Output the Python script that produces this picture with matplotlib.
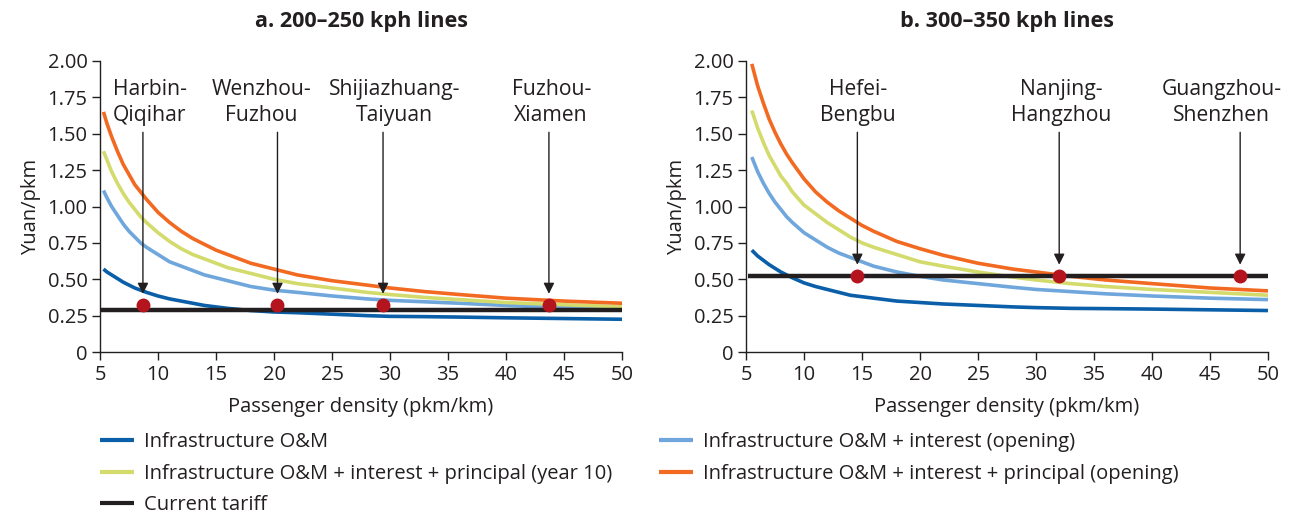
import matplotlib
matplotlib.use("Agg")
import matplotlib.pyplot as plt

plt.rcParams['font.family'] = ['Open Sans', 'DejaVu Sans']

# ---- data ----
x_a = [5.3, 5.6, 6, 6.5, 7, 7.5, 8, 8.5, 9, 10, 11, 12, 13, 14, 15, 16, 18, 20,
       22, 25, 28, 30, 33, 36, 40, 45, 50]
om_a = [0.57, 0.55, 0.53, 0.505, 0.48, 0.46, 0.44, 0.425, 0.41, 0.385, 0.365, 0.35,
        0.335, 0.32, 0.31, 0.30, 0.285, 0.275, 0.27, 0.26, 0.25, 0.245, 0.243, 0.24,
        0.235, 0.23, 0.225]
int_a = [1.11, 1.06, 1.00, 0.94, 0.88, 0.83, 0.79, 0.75, 0.72, 0.67, 0.62, 0.59,
         0.56, 0.53, 0.51, 0.49, 0.45, 0.425, 0.41, 0.385, 0.365, 0.355, 0.345, 0.335,
         0.32, 0.305, 0.295]
y10_a = [1.38, 1.32, 1.24, 1.16, 1.09, 1.03, 0.98, 0.93, 0.89, 0.82, 0.76, 0.71,
         0.67, 0.64, 0.61, 0.58, 0.54, 0.50, 0.47, 0.44, 0.41, 0.395, 0.375, 0.36,
         0.34, 0.325, 0.31]
open_a = [1.65, 1.57, 1.48, 1.38, 1.29, 1.22, 1.15, 1.10, 1.05, 0.96, 0.89, 0.83,
          0.78, 0.74, 0.70, 0.67, 0.61, 0.57, 0.53, 0.49, 0.46, 0.44, 0.415, 0.395,
          0.37, 0.35, 0.335]
tariff_a = 0.29
lines_a = ["Harbin-\nQiqihar", "Wenzhou-\nFuzhou", "Shijiazhuang-\nTaiyuan", "Fuzhou-\nXiamen"]
line_x_a = [8.7, 20.3, 29.4, 43.7]
line_y_a = [0.32, 0.32, 0.32, 0.32]
label_x_a = [9.3, 18.9, 30.4, 43.9]

x_b = [5.5, 6, 6.5, 7, 7.5, 8, 8.5, 9, 10, 11, 12, 13, 14, 15, 16, 18, 20,
       22, 25, 28, 30, 33, 36, 40, 45, 50]
om_b = [0.70, 0.66, 0.63, 0.60, 0.575, 0.55, 0.53, 0.51, 0.475, 0.45, 0.43, 0.41,
        0.39, 0.38, 0.37, 0.35, 0.34, 0.33, 0.32, 0.31, 0.305, 0.30, 0.298, 0.295,
        0.29, 0.285]
int_b = [1.34, 1.24, 1.16, 1.09, 1.03, 0.98, 0.93, 0.89, 0.82, 0.77, 0.72, 0.68,
         0.65, 0.62, 0.59, 0.55, 0.52, 0.495, 0.47, 0.445, 0.43, 0.415, 0.40, 0.385,
         0.37, 0.36]
y10_b = [1.66, 1.54, 1.44, 1.35, 1.28, 1.21, 1.16, 1.10, 1.01, 0.95, 0.89, 0.84,
         0.79, 0.75, 0.72, 0.67, 0.62, 0.59, 0.55, 0.515, 0.495, 0.47, 0.45, 0.43,
         0.41, 0.39]
open_b = [1.98, 1.83, 1.71, 1.60, 1.51, 1.43, 1.36, 1.30, 1.19, 1.10, 1.03, 0.97,
          0.92, 0.87, 0.83, 0.76, 0.71, 0.665, 0.61, 0.57, 0.55, 0.52, 0.495, 0.47,
          0.44, 0.42]
tariff_b = 0.525
lines_b = ["Hefei-\nBengbu", "Nanjing-\nHangzhou", "Guangzhou-\nShenzhen"]
line_x_b = [14.6, 32.0, 47.6]
line_y_b = [0.525, 0.525, 0.525]
label_x_b = [14.65, 32.2, 46.0]

titles = ["a. 200–250 kph lines", "b. 300–350 kph lines"]
series_labels = ["Infrastructure O&M",
                 "Infrastructure O&M + interest (opening)",
                 "Infrastructure O&M + interest + principal (year 10)",
                 "Infrastructure O&M + interest + principal (opening)",
                 "Current tariff"]
x_ticks = [5, 10, 15, 20, 25, 30, 35, 40, 45, 50]
y_ticks = [0, 0.25, 0.5, 0.75, 1.0, 1.25, 1.5, 1.75, 2.0]
y_ticklabels = ["0", "0.25", "0.50", "0.75", "1.00", "1.25", "1.50", "1.75", "2.00"]

C_OM = "#0a5fa8"
C_INT = "#6fa7dc"
C_Y10 = "#d3db6d"
C_OPEN = "#f26a22"
C_TAR = "#231f20"
C_DOT = "#b4141e"
TXT = "#231f20"
FS = 14.5

fig = plt.figure(figsize=(12.9, 5.14), dpi=100)
ax_a = fig.add_axes([100/1290, 1-352/514, 522/1290, 291/514])
ax_b = fig.add_axes([746/1290, 1-352/514, 522/1290, 291/514])

panels = [
    (ax_a, x_a, om_a, int_a, y10_a, open_a, tariff_a, lines_a, line_x_a, line_y_a, label_x_a, 0.40, titles[0]),
    (ax_b, x_b, om_b, int_b, y10_b, open_b, tariff_b, lines_b, line_x_b, line_y_b, label_x_b, 0.60, titles[1]),
]

handles = None
for ax, xs, om, it, y10, op, tar, names, lx, ly, tx, tip, title in panels:
    h1, = ax.plot(xs, om, color=C_OM, lw=2.6, solid_capstyle='butt', solid_joinstyle='round')
    h2, = ax.plot(xs, it, color=C_INT, lw=2.6, solid_capstyle='butt', solid_joinstyle='round')
    h3, = ax.plot(xs, y10, color=C_Y10, lw=2.6, solid_capstyle='butt', solid_joinstyle='round')
    h4, = ax.plot(xs, op, color=C_OPEN, lw=2.6, solid_capstyle='butt', solid_joinstyle='round')
    h5, = ax.plot([xs[0] - 0.3, 50], [tar, tar], color=C_TAR, lw=3.2, solid_capstyle='butt')
    handles = [h1, h2, h3, h4, h5]
    ax.plot(lx, ly, 'o', color=C_DOT, ms=10, zorder=5, mec='none')
    for name, x0, t in zip(names, lx, tx):
        ax.annotate("", xy=(x0, tip), xytext=(x0, 1.51),
                    arrowprops=dict(arrowstyle='-|>', color=TXT, lw=1.0,
                                    mutation_scale=16, shrinkA=0, shrinkB=0))
        ax.text(t, 1.715, name, ha='center', va='center', fontsize=15.2,
                color=TXT, linespacing=1.35)
    ax.set_xlim(5, 50)
    ax.set_ylim(0, 2)
    ax.set_xticks(x_ticks)
    ax.set_yticks(y_ticks)
    ax.set_yticklabels(y_ticklabels)
    for s in ['top', 'right']:
        ax.spines[s].set_visible(False)
    for s in ['left', 'bottom']:
        ax.spines[s].set_color(TXT)
        ax.spines[s].set_linewidth(1.0)
    ax.tick_params(direction='out', length=6, width=1.0, color=TXT,
                   labelsize=FS, labelcolor=TXT, pad=3)
    ax.set_xlabel("Passenger density (pkm/km)", fontsize=FS, color=TXT, labelpad=9)
    ax.set_ylabel("Yuan/pkm", fontsize=FS, color=TXT, labelpad=5)
    pos = ax.get_position()
    fig.text((pos.x0 + pos.x1) / 2, 1 - 22/514, title, ha='center', va='center',
             fontsize=15.6, fontweight='bold', color=TXT)

order = [0, 2, 4, 1, 3]
leg = fig.legend([handles[i] for i in order], [series_labels[i] for i in order],
                 ncol=2, loc='upper left', bbox_to_anchor=(92/1290, 1-424/514),
                 frameon=False, fontsize=FS, handlelength=1.7, handletextpad=0.5,
                 columnspacing=2.3, labelspacing=0.58, borderaxespad=0)
for t in leg.get_texts():
    t.set_color(TXT)
for l in leg.get_lines():
    l.set_linewidth(3)

fig.savefig("out.png", dpi=100)
